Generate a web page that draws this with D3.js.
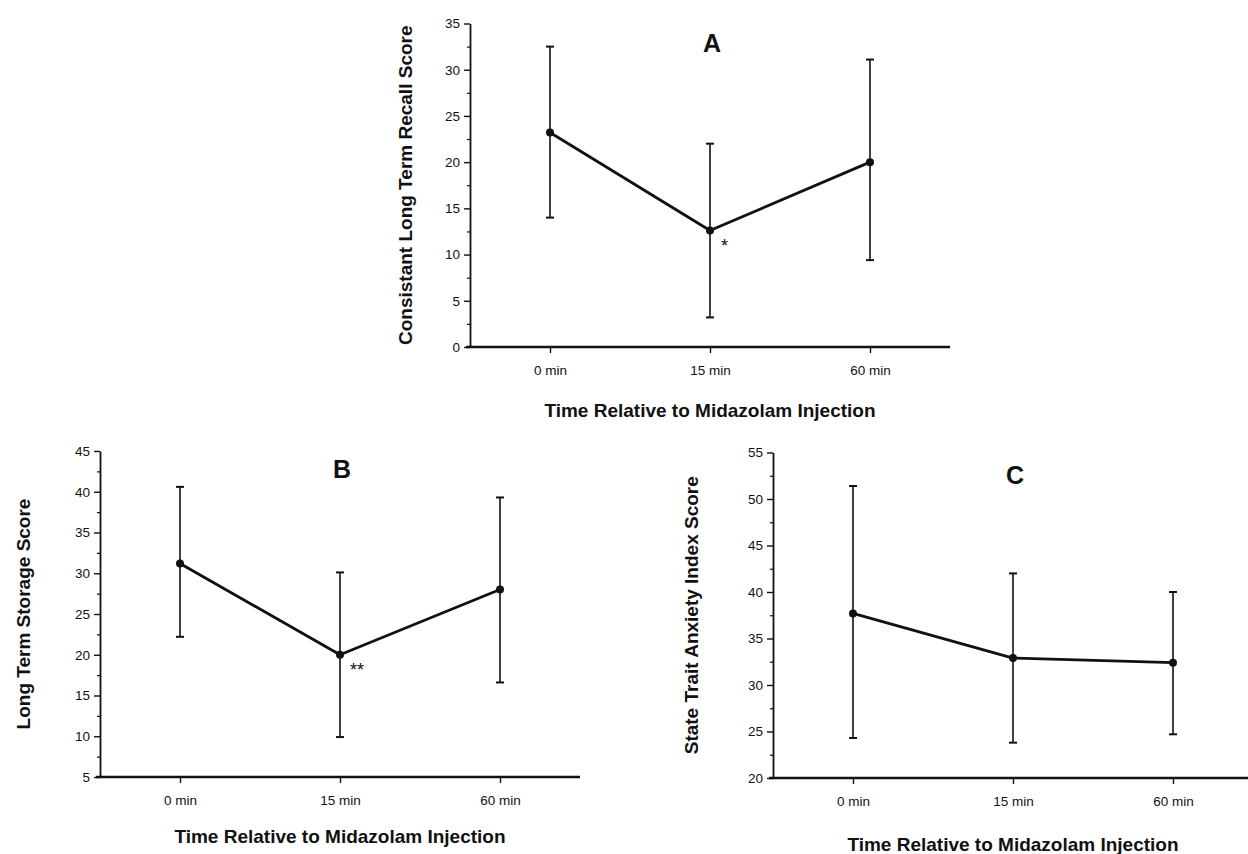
<!DOCTYPE html>
<html>
<head>
<meta charset="utf-8">
<script src="https://cdn.jsdelivr.net/npm/d3@7"></script>
<style>
  html, body { margin: 0; padding: 0; background: #fff; }
  svg { display: block; }
  text { font-family: "Liberation Sans", Arial, Helvetica, sans-serif; fill: #111; }
</style>
</head>
<body>
<svg id="chart" width="1248" height="854"></svg>
<script>
// ---- Data ----
const categories = ["0 min", "15 min", "60 min"];

const recallMean  = [23.2, 12.6, 20.0];
const recallUpper = [32.5, 22.0, 31.1];
const recallLower = [14.0, 3.2, 9.4];

const storageMean  = [31.2, 20.0, 28.0];
const storageUpper = [40.6, 30.1, 39.3];
const storageLower = [22.2, 9.9, 16.6];

const anxietyMean  = [37.7, 32.9, 32.4];
const anxietyUpper = [51.4, 42.0, 40.0];
const anxietyLower = [24.3, 23.8, 24.7];

const recallTicks  = [0, 5, 10, 15, 20, 25, 30, 35];
const storageTicks = [5, 10, 15, 20, 25, 30, 35, 40, 45];
const anxietyTicks = [20, 25, 30, 35, 40, 45, 50, 55];

const xTitle = "Time Relative to Midazolam Injection";

// ---- Panel layout ----
const panels = [
  { letter: "A", yTitle: "Consistant Long Term Recall Score",
    mean: recallMean, upper: recallUpper, lower: recallLower, ticks: recallTicks,
    sig: "*", sigIndex: 1,
    x0: 470, x1: 950, yTop: 23.5, yBot: 347,
    letterDy: 28.5, yTitleX: 412, xTitleY: 417 },
  { letter: "B", yTitle: "Long Term Storage Score",
    mean: storageMean, upper: storageUpper, lower: storageLower, ticks: storageTicks,
    sig: "**", sigIndex: 1,
    x0: 100, x1: 580, yTop: 451, yBot: 777,
    letterDy: 27, yTitleX: 30, xTitleY: 843 },
  { letter: "C", yTitle: "State Trait Anxiety Index Score",
    mean: anxietyMean, upper: anxietyUpper, lower: anxietyLower, ticks: anxietyTicks,
    sig: null, sigIndex: null,
    x0: 773, x1: 1253, yTop: 452.5, yBot: 778,
    letterDy: 31.5, yTitleX: 698, xTitleY: 851 }
];

const svg = d3.select("#chart");
const ink = "#111";

panels.forEach(p => {
  const g = svg.append("g");
  const x = d3.scalePoint().domain(categories).range([p.x0, p.x1]).padding(0.5);
  const tmin = d3.min(p.ticks), tmax = d3.max(p.ticks);
  const y = d3.scaleLinear().domain([tmin, tmax]).range([p.yBot, p.yTop]);
  const stepT = p.ticks[1] - p.ticks[0];
  const minorTicks = d3.range(tmin + stepT / 2, tmax, stepT);

  // minor y ticks
  const yMinor = g.append("g").attr("transform", `translate(${p.x0},0)`)
    .call(d3.axisLeft(y).tickValues(minorTicks).tickSize(3).tickSizeOuter(0).tickFormat(""));
  yMinor.select(".domain").remove();
  yMinor.selectAll("line").attr("stroke", ink).attr("stroke-width", 1.2);

  // major y axis
  const yAx = g.append("g").attr("transform", `translate(${p.x0},0)`)
    .call(d3.axisLeft(y).tickValues(p.ticks).tickSize(6).tickSizeOuter(0).tickPadding(4));
  yAx.select(".domain").attr("stroke", ink).attr("stroke-width", 1.8);
  yAx.selectAll("line").attr("stroke", ink).attr("stroke-width", 1.4);
  yAx.selectAll("text").attr("font-size", 13.5).attr("fill", ink)
    .style("font-family", '"Liberation Sans", Arial, sans-serif');

  // x axis
  const xAx = g.append("g").attr("transform", `translate(0,${p.yBot})`)
    .call(d3.axisBottom(x).tickSize(6).tickSizeOuter(0).tickPadding(12));
  xAx.select(".domain").attr("stroke", ink).attr("stroke-width", 2.6)
    .attr("d", `M${p.x0 - 4},0H${p.x1}`);
  xAx.selectAll("line").attr("stroke", ink).attr("stroke-width", 1.4);
  xAx.selectAll("text").attr("font-size", 13.5).attr("fill", ink)
    .style("font-family", '"Liberation Sans", Arial, sans-serif');

  const data = categories.map((c, i) => ({ c, m: p.mean[i], hi: p.upper[i], lo: p.lower[i] }));

  // error bars
  const eb = g.append("g");
  eb.selectAll("line.v").data(data).join("line").attr("class", "v")
    .attr("x1", d => x(d.c)).attr("x2", d => x(d.c))
    .attr("y1", d => y(d.hi)).attr("y2", d => y(d.lo))
    .attr("stroke", ink).attr("stroke-width", 1.6);
  eb.selectAll("line.cu").data(data).join("line").attr("class", "cu")
    .attr("x1", d => x(d.c) - 4).attr("x2", d => x(d.c) + 4)
    .attr("y1", d => y(d.hi)).attr("y2", d => y(d.hi))
    .attr("stroke", ink).attr("stroke-width", 2);
  eb.selectAll("line.cl").data(data).join("line").attr("class", "cl")
    .attr("x1", d => x(d.c) - 4).attr("x2", d => x(d.c) + 4)
    .attr("y1", d => y(d.lo)).attr("y2", d => y(d.lo))
    .attr("stroke", ink).attr("stroke-width", 2);

  // mean line
  g.append("path").datum(data)
    .attr("d", d3.line().x(d => x(d.c)).y(d => y(d.m)))
    .attr("fill", "none").attr("stroke", ink).attr("stroke-width", 2.8)
    .attr("stroke-linejoin", "round");

  // points
  g.selectAll("circle").data(data).join("circle")
    .attr("cx", d => x(d.c)).attr("cy", d => y(d.m)).attr("r", 4)
    .attr("fill", ink);

  // significance marker
  if (p.sig) {
    const d = data[p.sigIndex];
    g.append("text").attr("x", x(d.c) + (p.sig.length > 1 ? 10 : 11)).attr("y", y(d.m) + 21)
      .attr("font-size", 18).text(p.sig);
  }

  // panel letter
  g.append("text").attr("x", x(categories[1]) + 2).attr("y", p.yTop + p.letterDy)
    .attr("text-anchor", "middle").attr("font-size", 25).attr("font-weight", "bold")
    .text(p.letter);

  // x title
  g.append("text").attr("x", x(categories[1])).attr("y", p.xTitleY)
    .attr("text-anchor", "middle").attr("font-size", 19).attr("font-weight", "bold")
    .text(xTitle);

  // y title
  g.append("text")
    .attr("transform", `translate(${p.yTitleX},${(p.yTop + p.yBot) / 2}) rotate(-90)`)
    .attr("text-anchor", "middle").attr("font-size", 19).attr("font-weight", "bold")
    .text(p.yTitle);
});
</script>
</body>
</html>
